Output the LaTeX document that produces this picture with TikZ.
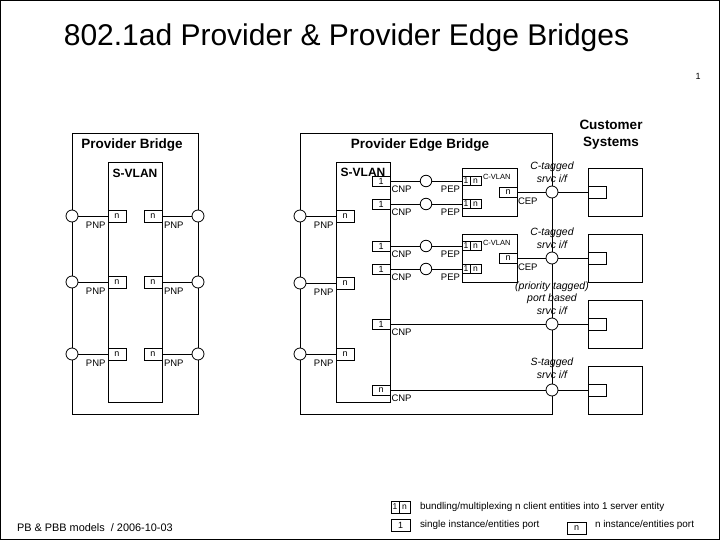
\documentclass[tikz,border=0pt]{standalone}
\usepackage{fontspec}
\setmainfont{Liberation Sans}
\begin{document}
\begin{tikzpicture}[x=1pt,y=-1pt,line width=0.8pt,
  every node/.style={inner sep=0pt,outer sep=0pt},
  port/.style={draw,circle,minimum size=12pt,fill=white},
  nbox/.style={draw,minimum width=18pt,minimum height=12pt,font=\fontsize{9}{9}\selectfont},
  onebox/.style={draw,minimum width=18pt,minimum height=10pt,font=\fontsize{9}{9}\selectfont},
  halfa/.style={draw,minimum width=8pt,minimum height=9pt,font=\fontsize{8.5}{9}\selectfont},
  halfb/.style={draw,minimum width=11pt,minimum height=9pt,font=\fontsize{8.5}{9}\selectfont},
  frame/.style={draw},
  lbl/.style={font=\fontsize{9.5}{10}\selectfont},
  tiny/.style={font=\fontsize{7.5}{8}\selectfont},
  ital/.style={font=\fontsize{10.5}{13}\selectfont\itshape,align=center},
  hdr/.style={font=\fontsize{13.5}{17}\selectfont\bfseries,align=center},
  svlan/.style={font=\fontsize{12}{12}\selectfont\bfseries},
  legend/.style={font=\fontsize{9.9}{10}\selectfont}]
\useasboundingbox (0,0) rectangle (720,540);
\draw[line width=1.2pt] (0.6,0.6) rectangle (719.4,539.4);

% title
\node[anchor=base,font=\fontsize{30}{30}\selectfont] (title) at (346.5,46) {802.1ad Provider \& Provider Edge Bridges};
\node[font=\fontsize{9}{9}\selectfont] (pagenum) at (698,76) {1};

% ---------- Provider Bridge ----------
\node[frame,anchor=north west,minimum width=126pt,minimum height=281pt] (pb) at (72,133) {};
\node[hdr] (pbtitle) at (132,145) {Provider Bridge};
\node[frame,anchor=north west,minimum width=54pt,minimum height=240pt] (pbs) at (108,162) {};
\node[svlan] (pbsl) at (135,173) {S-VLAN};
\foreach \i/\y in {1/216,2/282,3/354}{
  \node[nbox,anchor=west] (pbnL\i) at (108,\y) {n};
  \node[port] (pbL\i) at (72,\y) {};
  \draw (pbL\i) -- (pbnL\i);
  \node[lbl,anchor=east] (pbpL\i) at (105.5,\y+9) {PNP};
  \node[nbox,anchor=east] (pbnR\i) at (162,\y) {n};
  \node[port] (pbR\i) at (198,\y) {};
  \draw (pbnR\i) -- (pbR\i);
  \node[lbl,anchor=west] (pbpR\i) at (164,\y+9) {PNP};
}

% ---------- Provider Edge Bridge ----------
\node[frame,anchor=north west,minimum width=252pt,minimum height=281pt] (peb) at (300,133) {};
\node[hdr] (pebtitle) at (420,145) {Provider Edge Bridge};
\node[frame,anchor=north west,minimum width=54pt,minimum height=240pt] (pebs) at (336,162) {};
\foreach \i/\y in {1/216,2/283,3/354}{
  \node[nbox,anchor=west] (pebn\i) at (336,\y) {n};
  \node[port] (pebL\i) at (300,\y) {};
  \draw (pebL\i) -- (pebn\i);
  \node[lbl,anchor=east] (pebp\i) at (333.5,\y+9) {PNP};
}
% CNP ports
\foreach \n/\y/\t in {a/181/1,b/204/1,c/246/1,d/269/1,e/324/1,f/390/n}{
  \node[onebox,anchor=east] (cnp\n) at (390,\y) {\t};
  \node[lbl,anchor=west] (cnpl\n) at (391.5,\y+8.5) {CNP};
}
\node[svlan] (pebsl) at (363,172.5) {S-VLAN};

% C-VLAN components
\foreach \k/\yc in {1/192,2/258}{
  \node[frame,anchor=north west,minimum width=55pt,minimum height=48pt] (cv\k) at (462,\yc-24) {};
  \node[tiny,anchor=west] (cvl\k) at (483,\yc-15) {C-VLAN};
  \node[onebox,anchor=east] (cep\k) at (517,\yc) {n};
  \node[lbl,anchor=west] (cepl\k) at (518,\yc+9) {CEP};
}
\foreach \n/\y/\k in {a/181/1,b/204/1,c/246/2,d/269/2}{
  \node[halfa,anchor=west] (mx1\n) at (462,\y) {1};
  \node[halfb,anchor=west] (mxn\n) at (mx1\n.east) {n};
  \node[port,minimum size=11.5pt] (pep\n) at (426,\y) {};
  \draw (cnp\n) -- (pep\n);
  \draw (pep\n) -- (mx1\n);
  \node[lbl,anchor=east] (pepl\n) at (460,\y+8.5) {PEP};
}

% customer systems
\node[hdr] (custtitle) at (611,135) {Customer\\Systems};
\foreach \k/\yc in {1/192,2/258,3/324,4/390}{
  \node[frame,anchor=west,minimum width=54pt,minimum height=48pt] (cs\k) at (588,\yc) {};
  \node[nbox,anchor=west] (csp\k) at (588,\yc) {};
  \node[port] (srv\k) at (552,\yc) {};
  \draw (srv\k) -- (csp\k);
}
\draw (cep1) -- (srv1);
\draw (cep2) -- (srv2);
\draw (cnpe) -- (srv3);
\draw (cnpf) -- (srv4);

\node[ital] (lab1) at (552,172) {C-tagged\\srvc i/f};
\node[ital] (lab2) at (552,238) {C-tagged\\srvc i/f};
\node[ital,font=\fontsize{10.5}{12.5}\selectfont\itshape] (lab3) at (552,298) {(priority tagged)\\port based\\srvc i/f};
\node[ital] (lab4) at (552,368) {S-tagged\\srvc i/f};

% legend
\node[halfa,minimum height=12pt,minimum width=8pt,anchor=west] (lg1) at (391,507) {1};
\node[halfb,minimum height=12pt,minimum width=11pt,anchor=west] (lgn) at (lg1.east) {n};
\node[legend,anchor=west] (lgt1) at (420,507) {bundling/multiplexing n client entities into 1 server entity};
\node[nbox,minimum width=19pt,anchor=west] (lgone) at (391,525.5) {1};
\node[legend,anchor=west] (lgt2) at (420,525) {single instance/entities port};
\node[nbox,minimum width=19pt,anchor=west] (lgnn) at (567,528) {n};
\node[legend,anchor=west] (lgt3) at (595,525) {n instance/entities port};

\node[font=\fontsize{10.9}{11}\selectfont,anchor=west] (footer) at (17,528) {PB \& PBB models\ \ / 2006-10-03};
\end{tikzpicture}
\end{document}
